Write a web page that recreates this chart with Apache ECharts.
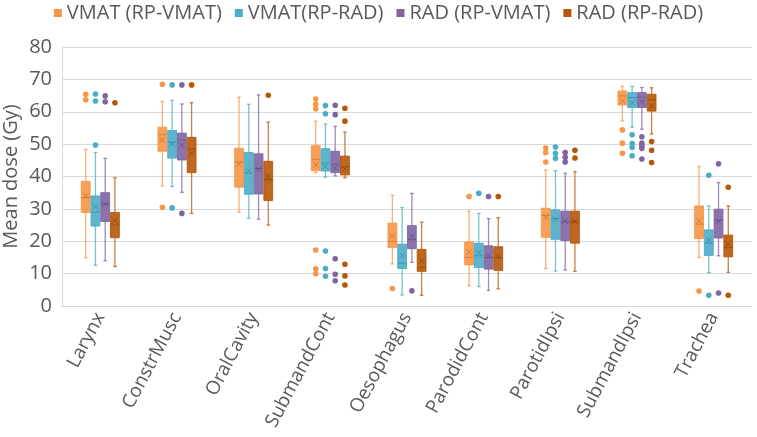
<!DOCTYPE html>
<html>
<head>
<meta charset="utf-8">
<script src="https://cdn.jsdelivr.net/npm/echarts@6/dist/echarts.min.js"></script>
<style>
  html, body { margin: 0; padding: 0; background: #fff; }
  #chart { width: 757px; height: 437px; }
</style>
</head>
<body>
<div id="chart"></div>
<script>
const categories = ['Larynx', 'ConstrMusc', 'OralCavity', 'SubmandCont', 'Oesophagus',
  'ParodidCont', 'ParotidIpsi', 'SubmandIpsi', 'Trachea']

const seriesNames = ['VMAT (RP-VMAT)', 'VMAT(RP-RAD)', 'RAD (RP-VMAT)', 'RAD (RP-RAD)']

// each row: whisker low, Q1, median, Q3, whisker high, mean
const vmatRpVmat = [
  [14.9, 28.9, 33.5, 38.5, 48.4, 34.0],
  [37.1, 47.8, 52.9, 55.2, 63.2, 51.3],
  [29.0, 36.7, 44.5, 48.7, 64.5, 43.8],
  [41.2, 41.8, 45.3, 49.5, 57.1, 43.6],
  [13.0, 18.1, 19.9, 25.6, 34.2, 21.6],
  [6.2, 12.7, 15.0, 19.8, 29.3, 16.6],
  [11.6, 21.2, 28.0, 30.2, 42.0, 27.4],
  [57.2, 62.1, 64.9, 66.4, 67.8, 63.3],
  [15.0, 20.8, 25.3, 30.9, 43.1, 26.3],
]
const vmatRpRad = [
  [12.6, 24.7, 29.0, 34.0, 47.4, 30.7],
  [36.9, 45.7, 50.6, 54.2, 63.5, 50.1],
  [27.1, 34.5, 41.0, 47.4, 62.3, 41.7],
  [39.8, 41.7, 44.2, 48.6, 56.2, 43.1],
  [3.4, 11.6, 13.2, 19.1, 30.4, 15.5],
  [6.0, 11.9, 15.5, 19.4, 28.6, 16.5],
  [10.8, 20.6, 27.0, 29.7, 41.8, 26.8],
  [55.2, 61.3, 64.4, 65.9, 67.8, 62.7],
  [10.3, 15.6, 19.4, 23.5, 30.9, 20.4],
]
const radRpVmat = [
  [14.0, 26.1, 31.5, 35.0, 45.6, 31.5],
  [35.1, 45.1, 51.3, 53.4, 62.4, 49.6],
  [26.8, 34.6, 42.5, 47.0, 65.2, 42.3],
  [40.2, 41.2, 43.8, 47.8, 55.5, 42.6],
  [13.5, 17.7, 20.5, 24.8, 34.8, 21.5],
  [4.8, 11.4, 15.0, 18.6, 27.0, 15.5],
  [11.1, 20.2, 26.0, 29.3, 41.0, 26.2],
  [54.6, 61.3, 64.5, 65.9, 67.5, 63.1],
  [15.5, 21.0, 26.5, 29.9, 38.1, 26.1],
]
const radRpRad = [
  [12.2, 21.1, 25.0, 28.9, 39.6, 26.4],
  [28.6, 41.2, 48.5, 52.1, 62.8, 47.2],
  [25.0, 32.6, 39.0, 44.7, 56.8, 40.0],
  [39.6, 40.5, 43.0, 46.3, 53.7, 42.4],
  [3.3, 10.7, 11.9, 17.5, 25.9, 14.0],
  [5.3, 11.0, 15.0, 18.3, 27.3, 15.3],
  [10.7, 19.4, 26.0, 29.3, 41.5, 26.1],
  [53.1, 60.2, 63.7, 65.4, 67.4, 61.8],
  [10.4, 15.2, 18.0, 21.9, 30.9, 19.1],
]

// outliers: [category index, value]
const outVmatRpVmat = [[0, 65.4], [0, 63.7], [1, 68.5], [1, 30.5], [3, 63.9], [3, 62.3], [3, 60.9],
  [3, 17.3], [3, 11.5], [3, 10.0], [4, 5.4], [5, 33.8], [6, 48.8], [6, 47.4], [6, 44.5],
  [7, 54.4], [7, 50.3], [7, 47.2], [8, 4.6]]
const outVmatRpRad = [[0, 65.5], [0, 63.3], [0, 49.7], [1, 68.3], [1, 30.3], [3, 61.9], [3, 59.4],
  [3, 17.0], [3, 11.6], [3, 9.2], [5, 34.8], [6, 49.1], [6, 47.2], [6, 45.6],
  [7, 52.9], [7, 50.2], [7, 49.0], [7, 46.4], [8, 40.4], [8, 3.3]]
const outRadRpVmat = [[0, 64.9], [0, 63.1], [1, 68.3], [1, 28.6], [3, 62.0], [3, 59.1],
  [3, 14.6], [3, 9.8], [3, 7.8], [4, 4.7], [5, 33.8], [6, 47.4], [6, 45.9], [6, 44.5],
  [7, 52.3], [7, 50.3], [7, 49.6], [7, 48.7], [7, 45.4], [8, 43.9], [8, 4.0]]
const outRadRpRad = [[0, 62.8], [1, 68.3], [2, 65.1], [3, 61.1], [3, 57.1], [3, 12.9], [3, 9.3],
  [3, 6.5], [5, 33.8], [6, 48.1], [6, 45.7], [7, 50.8], [7, 48.1], [7, 44.3], [8, 36.7], [8, 3.3]]

const yTicks = [0, 10, 20, 30, 40, 50, 60, 70, 80]

const colors = ['#F79646', '#4BACC6', '#8064A2', '#B65708']
const darks = ['#C0641C', '#2C7F96', '#55407A', '#7A3A04']
const boxes = [vmatRpVmat, vmatRpRad, radRpVmat, radRpRad]
const outliers = [outVmatRpVmat, outVmatRpRad, outRadRpVmat, outRadRpRad]

const chart = echarts.init(document.getElementById('chart'), null, { renderer: 'canvas' })

function offsetX(api, cat, k) {
  const band = api.size([1, 0])[0]
  return api.coord([cat, 0])[0] + (k - 1.5) * band * 0.127
}

function boxRenderer(k) {
  const color = colors[k]
  const dark = darks[k]
  return function (params, api) {
    const cat = api.value(0)
    const band = api.size([1, 0])[0]
    const cx = offsetX(api, cat, k)
    const w = band * 0.115
    const y = i => api.coord([cat, api.value(i)])[1]
    const lo = y(1), q1 = y(2), med = y(3), q3 = y(4), hi = y(5), mean = y(6)
    const cap = 1.8
    const m = w * 0.32
    const wl = { stroke: color, lineWidth: 1.3, opacity: 0.75 }
    return {
      type: 'group',
      children: [
        { type: 'line', shape: { x1: cx, y1: hi, x2: cx, y2: q3 }, style: wl },
        { type: 'line', shape: { x1: cx, y1: q1, x2: cx, y2: lo }, style: wl },
        { type: 'line', shape: { x1: cx - cap, y1: hi, x2: cx + cap, y2: hi }, style: wl },
        { type: 'line', shape: { x1: cx - cap, y1: lo, x2: cx + cap, y2: lo }, style: wl },
        {
          type: 'rect',
          shape: { x: cx - w / 2, y: q3, width: w, height: q1 - q3 },
          style: { fill: color, stroke: color, lineWidth: 1, opacity: 0.9 },
        },
        {
          type: 'line', shape: { x1: cx - w / 2, y1: med, x2: cx + w / 2, y2: med },
          style: { stroke: dark, lineWidth: 1, opacity: 0.55 },
        },
        {
          type: 'line', shape: { x1: cx - m, y1: mean - m, x2: cx + m, y2: mean + m },
          style: { stroke: dark, lineWidth: 1, opacity: 0.6 },
        },
        {
          type: 'line', shape: { x1: cx - m, y1: mean + m, x2: cx + m, y2: mean - m },
          style: { stroke: dark, lineWidth: 1, opacity: 0.6 },
        },
      ],
    }
  }
}

function outlierRenderer(k) {
  return function (params, api) {
    const cat = api.value(0)
    const cx = offsetX(api, cat, k)
    const cy = api.coord([cat, api.value(1)])[1]
    return {
      type: 'circle',
      shape: { cx, cy, r: 2.8 },
      style: { fill: colors[k] },
    }
  }
}

const series = []
boxes.forEach((rows, k) => {
  series.push({
    name: seriesNames[k],
    type: 'custom',
    renderItem: boxRenderer(k),
    itemStyle: { color: colors[k] },
    encode: { x: 0, y: [1, 2, 3, 4, 5, 6] },
    data: rows.map((r, i) => [i].concat(r)),
  })
})
outliers.forEach((pts, k) => {
  series.push({
    name: seriesNames[k],
    type: 'custom',
    renderItem: outlierRenderer(k),
    itemStyle: { color: colors[k] },
    encode: { x: 0, y: 1 },
    data: pts,
  })
})

chart.setOption({
  backgroundColor: '#fff',
  animation: false,
  textStyle: { fontFamily: 'Open Sans', color: '#595959' },
  legend: {
    data: seriesNames,
    top: -2,
    left: 'center',
    itemWidth: 8,
    itemHeight: 8,
    itemGap: 13,
    icon: 'rect',
    textStyle: { fontSize: 20, color: '#595959', fontFamily: 'Open Sans' },
  },
  grid: { left: 62, right: 5, top: 47, bottom: 131, outerBoundsMode: 'none' },
  xAxis: {
    type: 'category',
    data: categories,
    axisTick: { show: false },
    axisLine: { lineStyle: { color: '#D9D9D9' } },
    axisLabel: { rotate: 62, fontSize: 19, color: '#595959', margin: 8 },
  },
  yAxis: {
    type: 'value',
    min: yTicks[0],
    max: yTicks[yTicks.length - 1],
    interval: 10,
    name: 'Mean dose (Gy)',
    nameLocation: 'middle',
    nameGap: 41,
    nameMoveOverlap: false,
    nameTextStyle: { fontSize: 20, color: '#595959' },
    axisLine: { show: true, lineStyle: { color: '#D9D9D9' } },
    axisLabel: { fontSize: 20, color: '#595959', margin: 10 },
    splitLine: { lineStyle: { color: '#D9D9D9' } },
  },
  series,
})
</script>
</body>
</html>
